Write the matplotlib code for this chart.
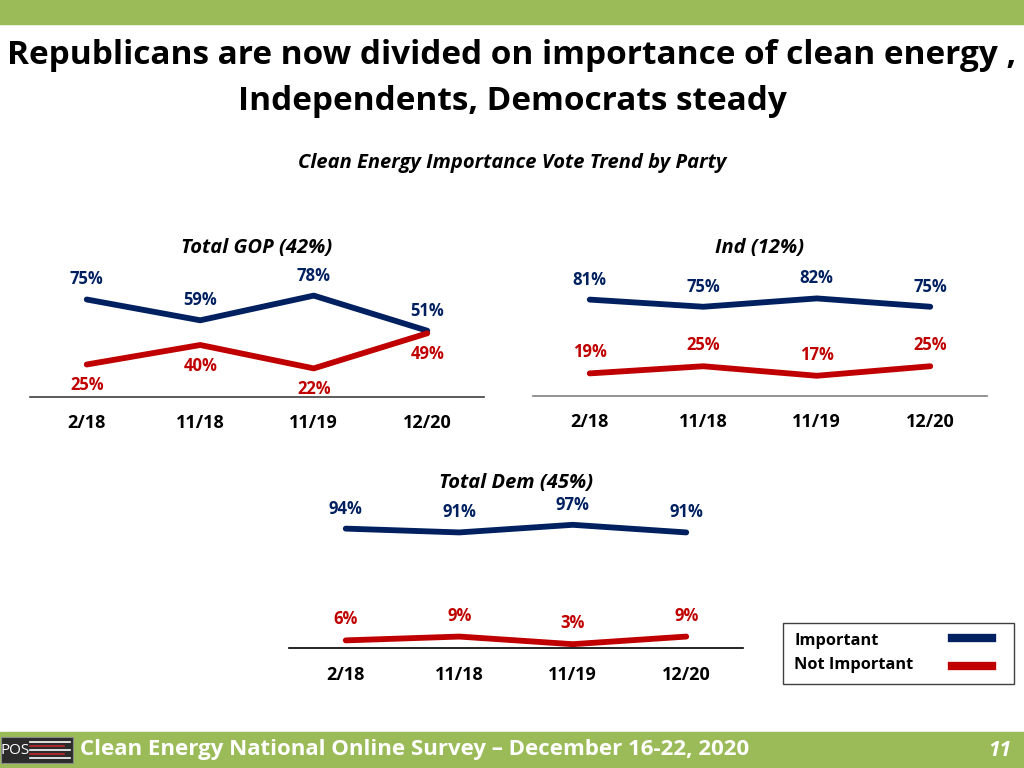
import matplotlib.pyplot as plt
from matplotlib.patches import Rectangle
from matplotlib.lines import Line2D

plt.rcParams['font.family'] = ['Open Sans', 'DejaVu Sans']

waves = ["2/18", "11/18", "11/19", "12/20"]

gop_important = [75, 59, 78, 51]
gop_not = [25, 40, 22, 49]
ind_important = [81, 75, 82, 75]
ind_not = [19, 25, 17, 25]
dem_important = [94, 91, 97, 91]
dem_not = [6, 9, 3, 9]

BLUE = "#002060"
RED = "#C00000"
GREEN = "#9BBB59"

W, H = 1024, 768
fig = plt.figure(figsize=(W / 100, H / 100), dpi=100)


def px(x, y):
    return x / W, 1 - y / H


def panel(left, axis_y, top100_y, title, title_y, imp, notimp, red_below, axis_color, tick_y):
    ax = fig.add_axes([left / W, 1 - axis_y / H, 454 / W, (axis_y - top100_y) / H])
    ax.set_xlim(-0.5, 3.5)
    ax.set_ylim(0, 100)
    x = range(len(waves))
    ax.plot(x, imp, color=BLUE, lw=4.2, solid_capstyle='round', solid_joinstyle='round')
    ax.plot(x, notimp, color=RED, lw=4.2, solid_capstyle='round', solid_joinstyle='round')
    for i, v in enumerate(imp):
        ax.annotate(f"{v}%", (i, v), xytext=(0, 20), textcoords='offset pixels',
                    ha='center', va='center', color=BLUE, fontsize=12, fontweight='bold')
    for i, v in enumerate(notimp):
        off = -21 if red_below else 21
        ax.annotate(f"{v}%", (i, v), xytext=(0, off), textcoords='offset pixels',
                    ha='center', va='center', color=RED, fontsize=12, fontweight='bold')
    for s in ['top', 'right', 'left']:
        ax.spines[s].set_visible(False)
    ax.spines['bottom'].set_color(axis_color)
    ax.spines['bottom'].set_linewidth(1.2)
    ax.set_yticks([])
    ax.set_xticks(list(x))
    ax.set_xticklabels(waves, fontsize=13, fontweight='bold')
    ax.tick_params(axis='x', length=0, pad=(tick_y - axis_y) * 0.72 - 6)
    fig.text(*px(left + 227, title_y), title, ha='center', va='center',
             fontsize=14.5, fontweight='bold', fontstyle='italic')
    return ax


panel(30, 397, 267, "Total GOP (42%)", 248, gop_important, gop_not, True, "#404040", 422)
panel(533, 396, 277, "Ind (12%)", 248, ind_important, ind_not, False, "#808080", 421)
panel(289, 648, 521, "Total Dem (45%)", 483, dem_important, dem_not, False, "black", 674)

# top bar and titles
fig.patches.append(Rectangle((0, 1 - 24 / H), 1, 24 / H, transform=fig.transFigure,
                             color=GREEN, zorder=0))
fig.text(*px(512, 56), "Republicans are now divided on importance of clean energy ,",
         ha='center', va='center', fontsize=24, fontweight='bold')
fig.text(*px(512, 101), "Independents, Democrats steady",
         ha='center', va='center', fontsize=24, fontweight='bold')
fig.text(*px(512, 163), "Clean Energy Importance Vote Trend by Party",
         ha='center', va='center', fontsize=14.5, fontweight='bold', fontstyle='italic')

# legend box
fig.patches.append(Rectangle(px(783, 684), 231 / W, 61 / H, transform=fig.transFigure,
                             fill=False, edgecolor='#404040', lw=1))
fig.text(*px(794, 641), "Important", ha='left', va='center', fontsize=11.8, fontweight='bold')
fig.text(*px(794, 665), "Not Important", ha='left', va='center', fontsize=11.8, fontweight='bold')
fig.lines.append(Line2D([952 / W, 992 / W], [1 - 638 / H] * 2, transform=fig.transFigure,
                        color=BLUE, lw=6))
fig.lines.append(Line2D([952 / W, 992 / W], [1 - 666 / H] * 2, transform=fig.transFigure,
                        color=RED, lw=6))

# footer
fig.patches.append(Rectangle((0, 0), 1, 36 / H, transform=fig.transFigure, color=GREEN, zorder=0))
fig.patches.append(Rectangle(px(1, 763), 72 / W, 26 / H, transform=fig.transFigure,
                             facecolor='#2b2b2b', edgecolor='#888888', lw=0.8, zorder=1))
fig.text(*px(15, 750), "POS", ha='center', va='center', fontsize=11, color='white', zorder=2)
for i, yy in enumerate([742, 746, 750, 754, 758]):
    c = '#ffffff' if i % 2 == 0 else '#c0282d'
    fig.lines.append(Line2D([30 / W, (70 - 6 * (i % 2)) / W], [1 - yy / H] * 2,
                            transform=fig.transFigure, color=c, lw=1.2, zorder=2))
fig.text(*px(80, 750), "Clean Energy National Online Survey \u2013 December 16-22, 2020",
         ha='left', va='center', fontsize=16, fontweight='bold', color='white')
fig.text(*px(1000, 750), "11", ha='center', va='center', fontsize=15, fontweight='bold',
         fontstyle='italic', color='white')

fig.savefig('out.png', dpi=100)
